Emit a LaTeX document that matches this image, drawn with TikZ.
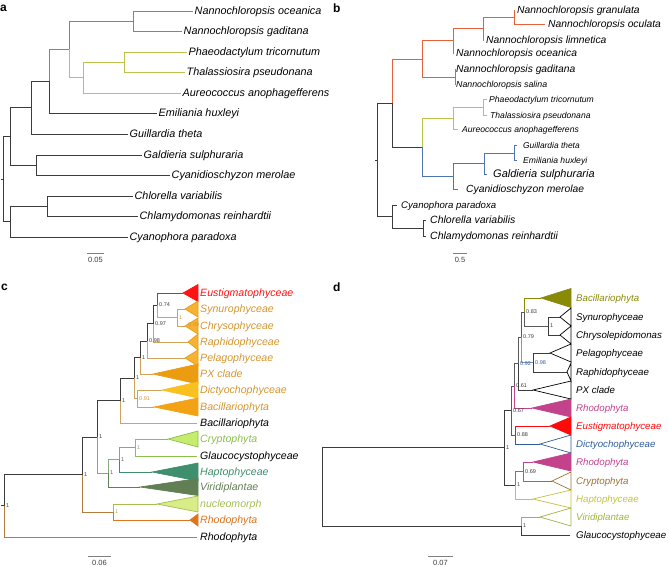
\documentclass[tikz,border=0pt]{standalone}
\usepackage{fontspec}
\setmainfont{Liberation Sans}
\usetikzlibrary{calc}

\definecolor{dkbr}{HTML}{3C3C3C}
\definecolor{dgry}{HTML}{5A5A5A}
\definecolor{aorg}{HTML}{E8603A}
\definecolor{ayel}{HTML}{BCC24C}
\definecolor{bblu}{HTML}{4E74B4}
\definecolor{ceus}{HTML}{FF1414}
\definecolor{corg}{HTML}{F6B233}
\definecolor{cpx}{HTML}{EC9C10}
\definecolor{cdic}{HTML}{FAC020}
\definecolor{cbac}{HTML}{F2A214}
\definecolor{ctan}{HTML}{D0A25C}
\definecolor{ctxt}{HTML}{D4962E}
\definecolor{ccry}{HTML}{C6EC6C}
\definecolor{ccrt}{HTML}{8CBE4E}
\definecolor{chap}{HTML}{3F8E6E}
\definecolor{cvir}{HTML}{617E55}
\definecolor{cnuc}{HTML}{D8EC88}
\definecolor{cnut}{HTML}{A6BE50}
\definecolor{crho}{HTML}{DE741E}
\definecolor{cbrn}{HTML}{B57D3C}
\definecolor{cgrn}{HTML}{88A878}
\definecolor{dolv}{HTML}{898A08}
\definecolor{dpnk}{HTML}{C2438C}
\definecolor{dred}{HTML}{FF0A0A}
\definecolor{dblu}{HTML}{2E5E9C}
\definecolor{dbrn}{HTML}{9C7230}
\definecolor{dyel}{HTML}{C8C23C}
\definecolor{dygr}{HTML}{A2B43E}
\definecolor{dbgr}{HTML}{7A98C0}

\tikzset{
  br/.style     = {line width=0.9pt},
  clade/.style  = {line width=0.7pt, line join=miter},
  taxon/.style  = {anchor=base west, inner sep=0pt, xshift=1.5pt,
                   yshift={-0.36*#1pt}, font=\fontsize{#1}{#1}\selectfont\itshape},
  taxon/.default = 10,
  supp/.style   = {anchor=west, inner sep=0pt, xshift=2pt,
                   font=\fontsize{5.5}{6}\selectfont, text=dkbr},
  plab/.style   = {anchor=west, inner sep=0pt, font=\fontsize{12}{14}\selectfont\bfseries},
  sbar/.style   = {line width=0.8pt, draw=gray},
  stxt/.style   = {inner sep=0pt, font=\fontsize{7.5}{9}\selectfont, text=dkbr}
}

\begin{document}
\begin{tikzpicture}[x=1pt, y=-1pt]
\useasboundingbox (0,0) rectangle (669,567);

% ── b: plastid tree ──────────────────────────────────────────────
\node[plab] (bLab) at (333,8) {b};

\coordinate (bGra) at (515,10);
\coordinate (bOcu) at (545,24);
\coordinate (bLim) at (484,40);
\coordinate (bOce) at (454,53);
\coordinate (bGad) at (456,69);
\coordinate (bSal) at (456,84);
\coordinate (bPha) at (487,99);
\coordinate (bTha) at (487,115);
\coordinate (bAur) at (458,129);
\coordinate (bGui) at (517,145);
\coordinate (bEmi) at (517,160);
\coordinate (bGal) at (487,174);
\coordinate (bCyd) at (458,189);
\coordinate (bCyp) at (397,205);
\coordinate (bChl) at (426,220);
\coordinate (bChm) at (426,236);

\coordinate (bN1) at (514,17);
\coordinate (bN2) at (483,28.5);
\coordinate (bN3) at (453,40.5);
\coordinate (bN4) at (455,77);
\coordinate (bN5) at (422,59);
\coordinate (bN6) at (483,107);
\coordinate (bN7) at (453,118);
\coordinate (bN8) at (514,153);
\coordinate (bN9) at (484,163.5);
\coordinate (bN10) at (453,176);
\coordinate (bN11) at (422,147);
\coordinate (bN12) at (392,103);
\coordinate (bN13) at (423,228);
\coordinate (bN14) at (392,216.5);
\coordinate (bR) at (377,160);
\coordinate (bRs) at (375,160);

\draw[br, aorg] (bN1) |- (bGra);
\draw[br, aorg] (bN1) |- (bOcu);
\draw[br, aorg] (bN2) |- (bN1);
\draw[br, aorg] (bN2) |- (bLim);
\draw[br, aorg] (bN3) |- (bN2);
\draw[br, aorg] (bN3) |- (bOce);
\draw[br, aorg] (bN4) |- (bGad);
\draw[br, aorg] (bN4) |- (bSal);
\draw[br, aorg] (bN5) |- (bN3);
\draw[br, aorg] (bN5) |- (bN4);
\draw[br, ayel] (bN6) |- (bPha);
\draw[br, ayel] (bN6) |- (bTha);
\draw[br, ayel] (bN7) |- (bN6);
\draw[br, ayel] (bN7) |- (bAur);
\draw[br, bblu] (bN8) |- (bGui);
\draw[br, bblu] (bN8) |- (bEmi);
\draw[br, bblu] (bN9) |- (bN8);
\draw[br, bblu] (bN9) |- (bGal);
\draw[br, bblu] (bN10) |- (bN9);
\draw[br, bblu] (bN10) |- (bCyd);
\draw[br, ayel] (bN11) |- (bN7);
\draw[br, bblu] (bN11) |- (bN10);
\draw[br, aorg] (bN12) |- (bN5);
\draw[br, dkbr] (bN12) |- (bN11);
\draw[br, dkbr] (bN13) |- (bChl);
\draw[br, dkbr] (bN13) |- (bChm);
\draw[br, dkbr] (bN14) |- (bCyp);
\draw[br, dkbr] (bN14) |- (bN13);
\draw[br, dkbr] (bR) |- (bN12);
\draw[br, dkbr] (bR) |- (bN14);
\draw[br, dkbr] (bRs) -- (bR);

\node[taxon=10.3] (bGraT) at (515.5,10) {Nannochloropsis granulata};
\node[taxon=10.3] (bOcuT) at (546.5,24) {Nannochloropsis oculata};
\node[taxon=10.3] (bLimT) at (484.5,40) {Nannochloropsis limnetica};
\node[taxon=10.3] (bOceT) at (454.5,53) {Nannochloropsis oceanica};
\node[taxon=10.3] (bGadT) at (454.5,69) {Nannochloropsis gaditana};
\node[taxon=8.8] (bSalT) at (454.5,84) {Nannochloropsis salina};
\node[taxon=8.6] (bPhaT) at (487.5,99) {Phaeodactylum tricornutum};
\node[taxon=8.6] (bThaT) at (488.5,115) {Thalassiosira pseudonana};
\node[taxon=8.6] (bAurT) at (460.5,129) {Aureococcus anophagefferens};
\node[taxon=8.4] (bGuiT) at (521.5,145) {Guillardia theta};
\node[taxon=8.6] (bEmiT) at (521.5,160) {Emiliania huxleyi};
\node[taxon=11] (bGalT) at (491.5,174) {Galdieria sulphuraria};
\node[taxon=10.3] (bCydT) at (464.5,189) {Cyanidioschyzon merolae};
\node[taxon=9.6] (bCypT) at (399.5,205) {Cyanophora paradoxa};
\node[taxon=10.5] (bChlT) at (428.5,220) {Chlorella variabilis};
\node[taxon=10.5] (bChmT) at (428.5,236) {Chlamydomonas reinhardtii};

\coordinate (bS1) at (453,253);
\coordinate (bS2) at (467,253);
\draw[sbar] (bS1) -- (bS2);
\node[stxt] (bScl) at (460,260) {0.5};

% ── a: species tree ──────────────────────────────────────────────
\node[plab] (aLab) at (0,8) {a};

\coordinate (aNoc) at (193,11);
\coordinate (aNga) at (182,31);
\coordinate (aPha) at (187,52);
\coordinate (aTha) at (185,72);
\coordinate (aAur) at (181,93);
\coordinate (aEmi) at (157,113);
\coordinate (aGui) at (128,134);
\coordinate (aGal) at (142,155);
\coordinate (aCyd) at (170,175);
\coordinate (aChl) at (133,196);
\coordinate (aChm) at (138,216);
\coordinate (aCyp) at (128,237);

\coordinate (aN1) at (133,21);
\coordinate (aN2) at (124,62);
\coordinate (aN3) at (83,77.5);
\coordinate (aN4) at (69,49);
\coordinate (aN5) at (49,81);
\coordinate (aN6) at (31,107.5);
\coordinate (aN7) at (36,165);
\coordinate (aN8) at (10,136);
\coordinate (aN9) at (47,206);
\coordinate (aN10) at (10,221.5);
\coordinate (aR) at (3,179);
\coordinate (aRs) at (1,179);

\draw[br, color=aorg] (aN1) |- (aNoc);
\draw[br, color=aorg] (aN1) |- (aNga);
\draw[br, color=ayel] (aN2) |- (aPha);
\draw[br, color=ayel] (aN2) |- (aTha);
\draw[br, color=ayel] (aN3) |- (aN2);
\draw[br, color=ayel] (aN3) |- (aAur);
\draw[br, color=aorg] (aN4) |- (aN1);
\draw[br, color=ayel] (aN4) |- (aN3);
\draw[br, color=aorg] (aN5) |- (aN4);
\draw[br, dkbr] (aN5) |- (aEmi);
\draw[br, dkbr] (aN6) |- (aN5);
\draw[br, dkbr] (aN6) |- (aGui);
\draw[br, dkbr] (aN7) |- (aGal);
\draw[br, dkbr] (aN7) |- (aCyd);
\draw[br, dkbr] (aN8) |- (aN6);
\draw[br, dkbr] (aN8) |- (aN7);
\draw[br, dkbr] (aN9) |- (aChl);
\draw[br, dkbr] (aN9) |- (aChm);
\draw[br, dkbr] (aN10) |- (aN9);
\draw[br, dkbr] (aN10) |- (aCyp);
\draw[br, dkbr] (aR) |- (aN8);
\draw[br, dkbr] (aR) |- (aN10);
\draw[br, dkbr] (aRs) -- (aR);

\node[taxon=10.8] (aNocT) at (aNoc) {Nannochloropsis oceanica};
\node[taxon=10.8] (aNgaT) at (aNga) {Nannochloropsis gaditana};
\node[taxon=10.8] (aPhaT) at (aPha) {Phaeodactylum tricornutum};
\node[taxon=10.8] (aThaT) at (aTha) {Thalassiosira pseudonana};
\node[taxon=10.8] (aAurT) at (aAur) {Aureococcus anophagefferens};
\node[taxon=10.8] (aEmiT) at (aEmi) {Emiliania huxleyi};
\node[taxon=10.8] (aGuiT) at (aGui) {Guillardia theta};
\node[taxon=10.8] (aGalT) at (aGal) {Galdieria sulphuraria};
\node[taxon=10.8] (aCydT) at (aCyd) {Cyanidioschyzon merolae};
\node[taxon=10.8] (aChlT) at (aChl) {Chlorella variabilis};
\node[taxon=10.8] (aChmT) at (aChm) {Chlamydomonas reinhardtii};
\node[taxon=10.8] (aCypT) at (aCyp) {Cyanophora paradoxa};

\coordinate (aS1) at (87,253);
\coordinate (aS2) at (104,253);
\draw[sbar] (aS1) -- (aS2);
\node[stxt] (aScl) at (95.5,260) {0.05};

% ── c: collapsed clades ──────────────────────────────────────────
\node[plab] (cLab) at (1,287) {c};

\coordinate (cEus) at (183,293);
\coordinate (cSyn) at (185,309);
\coordinate (cChr) at (185,326);
\coordinate (cRap) at (188,342);
\coordinate (cPel) at (185,358);
\coordinate (cPX)  at (153,374);
\coordinate (cDic) at (162,390);
\coordinate (cBac) at (154,407);
\coordinate (cBal) at (197,423);
\coordinate (cCry) at (168,439);
\coordinate (cGla) at (197,456);
\coordinate (cHap) at (152,472);
\coordinate (cVir) at (140,487);
\coordinate (cNuc) at (157,504);
\coordinate (cRho) at (190,520);
\coordinate (cRhl) at (197,537);

\coordinate (cN1) at (177,317.5);
\coordinate (cN2) at (157,305);
\coordinate (cN3) at (153,323.5);
\coordinate (cN4) at (147,341);
\coordinate (cN5) at (140,357.5);
\coordinate (cN6) at (137,398.5);
\coordinate (cN7) at (134,378);
\coordinate (cN8) at (120,400.5);
\coordinate (cN9) at (135,447.5);
\coordinate (cN10) at (119,459.5);
\coordinate (cN11) at (108,473);
\coordinate (cN12) at (97,437);
\coordinate (cN13) at (113,512);
\coordinate (cN14) at (82,474.5);
\coordinate (cR) at (4,505.5);
\coordinate (cRs) at (1,505.5);

\draw[br, ctan] (cN1) |- (cSyn);
\draw[br, ctan] (cN1) |- (cChr);
\draw[br, ceus] (cN2) |- (cEus);
\draw[br, ctan] (cN2) |- (cN1);
\draw[br, dkbr] (cN3) |- (cN2);
\draw[br, ctan] (cN3) |- (cRap);
\draw[br, dkbr] (cN4) |- (cN3);
\draw[br, ctan] (cN4) |- (cPel);
\draw[br, dkbr] (cN5) |- (cN4);
\draw[br, ctan] (cN5) |- (cPX);
\draw[br, ctan] (cN6) |- (cDic);
\draw[br, ctan] (cN6) |- (cBac);
\draw[br, dkbr] (cN7) |- (cN5);
\draw[br, ctan] (cN7) |- (cN6);
\draw[br, dkbr] (cN8) |- (cN7);
\draw[br, ctan] (cN8) |- (cBal);
\draw[br, ccrt] (cN9) |- (cCry);
\draw[br, ccrt] (cN9) |- (cGla);
\draw[br, cgrn] (cN10) |- (cN9);
\draw[br, chap] (cN10) |- (cHap);
\draw[br, cgrn] (cN11) |- (cN10);
\draw[br, cvir] (cN11) |- (cVir);
\draw[br, dkbr] (cN12) |- (cN8);
\draw[br, cgrn] (cN12) |- (cN11);
\draw[br, cnut] (cN13) |- (cNuc);
\draw[br, crho] (cN13) |- (cRho);
\draw[br, dkbr] (cN14) |- (cN12);
\draw[br, cbrn] (cN14) |- (cN13);
\draw[br, dkbr] (cR) |- (cN14);
\draw[br, cbrn] (cR) |- (cRhl);
\draw[br, dkbr] (cRs) -- (cR);

% collapsed clades
\draw[clade, draw=ceus, fill=ceus] (cEus) -- ++(15,-8.5) -- ++(0,17) -- cycle;
\draw[clade, draw=cpx, fill=corg] (cSyn) -- ++(13,-8) -- ++(0,16) -- cycle;
\draw[clade, draw=cpx, fill=corg] (cChr) -- ++(13,-8) -- ++(0,16) -- cycle;
\draw[clade, draw=cpx, fill=corg] (cRap) -- ++(10,-8) -- ++(0,16) -- cycle;
\draw[clade, draw=cpx, fill=corg] (cPel) -- ++(13,-8) -- ++(0,16) -- cycle;
\draw[clade, draw=cpx, fill=cpx] (cPX) -- ++(45,-10) -- ++(0,20) -- cycle;
\draw[clade, draw=cdic, fill=cdic] (cDic) -- ++(36,-8) -- ++(0,16) -- cycle;
\draw[clade, draw=cbac, fill=cbac] (cBac) -- ++(44,-9) -- ++(0,18) -- cycle;
\draw[clade, draw=ccrt, fill=ccry] (cCry) -- ++(30,-8) -- ++(0,16) -- cycle;
\draw[clade, draw=chap, fill=chap] (cHap) -- ++(46,-9) -- ++(0,18) -- cycle;
\draw[clade, draw=cvir, fill=cvir] (cVir) -- ++(58,-8.5) -- ++(0,17) -- cycle;
\draw[clade, draw=cnut, fill=cnuc] (cNuc) -- ++(41,-8) -- ++(0,16) -- cycle;
\draw[clade, draw=crho, fill=crho] (cRho) -- ++(8,-6) -- ++(0,12) -- cycle;

\node[supp, text=ctxt] (cN1s) at (cN1) {1};
\node[supp, text=ctxt] (cChrs) at (186,325) {0.99};
\node[supp] (cN2s) at (cN2) {0.74};
\node[supp] (cN3s) at (cN3) {0.97};
\node[supp] (cN4s) at (cN4) {0.98};
\node[supp] (cN5s) at (cN5) {1};
\node[supp, text=ctxt] (cN6s) at (cN6) {0.91};
\node[supp] (cN7s) at (cN7) {1};
\node[supp] (cN8s) at (cN8) {1};
\node[supp, text=cgrn] (cN9s) at (cN9) {1};
\node[supp, text=dgry] (cN10s) at (cN10) {1};
\node[supp, text=dgry] (cN11s) at (cN11) {1};
\node[supp] (cN12s) at (cN12) {1};
\node[supp, text=cnut] (cN13s) at (cN13) {1};
\node[supp] (cN14s) at (cN14) {1};
\node[supp] (cRsl) at (cR) {1};

\node[taxon=10.6, text=ceus] (cEusT) at (198.5,293) {Eustigmatophyceae};
\node[taxon=10.6, text=ctxt] (cSynT) at (198.5,309) {Synurophyceae};
\node[taxon=10.6, text=ctxt] (cChrT) at (198.5,326) {Chrysophyceae};
\node[taxon=10.6, text=ctxt] (cRapT) at (198.5,342) {Raphidophyceae};
\node[taxon=10.6, text=ctxt] (cPelT) at (198.5,358) {Pelagophyceae};
\node[taxon=10.6, text=ctxt] (cPXT)  at (198.5,374) {PX clade};
\node[taxon=10.6, text=ctxt] (cDicT) at (198.5,390) {Dictyochophyceae};
\node[taxon=10.6, text=ctxt] (cBacT) at (198.5,407) {Bacillariophyta};
\node[taxon=10.6] (cBalT) at (198.5,423) {Bacillariophyta};
\node[taxon=10.6, text=ccrt] (cCryT) at (198.5,439) {Cryptophyta};
\node[taxon=10.6] (cGlaT) at (198.5,456) {Glaucocystophyceae};
\node[taxon=10.6, text=chap] (cHapT) at (198.5,472) {Haptophyceae};
\node[taxon=10.6, text=cvir] (cVirT) at (198.5,487) {Viridiplantae};
\node[taxon=10.6, text=cnut] (cNucT) at (198.5,504) {nucleomorph};
\node[taxon=10.6, text=crho] (cRhoT) at (198.5,520) {Rhodophyta};
\node[taxon=10.6] (cRhlT) at (198.5,537) {Rhodophyta};

\coordinate (cS1) at (88,556);
\coordinate (cS2) at (111,556);
\draw[sbar] (cS1) -- (cS2);
\node[stxt] (cScl) at (99.5,563) {0.06};

% ── d: collapsed clades, second tree ─────────────────────────────
\node[plab] (dLab) at (333,287) {d};

\coordinate (dBac) at (541,298);
\coordinate (dSyn) at (560,317);
\coordinate (dChr) at (560,335);
\coordinate (dPel) at (550,353);
\coordinate (dRap) at (567,372);
\coordinate (dPX)  at (533,390);
\coordinate (dRh1) at (532,408);
\coordinate (dEus) at (550,426);
\coordinate (dDic) at (540,444);
\coordinate (dRh2) at (533,462);
\coordinate (dCry) at (552,481);
\coordinate (dHap) at (533,499);
\coordinate (dVir) at (540,517);
\coordinate (dGla) at (570,535);

\coordinate (dN1) at (548,326);
\coordinate (dN2) at (524,312);
\coordinate (dN3) at (533,362.5);
\coordinate (dN4) at (521,337);
\coordinate (dN5) at (518,363.5);
\coordinate (dN6) at (514,386);
\coordinate (dN7) at (515,435);
\coordinate (dN8) at (511,410.5);
\coordinate (dN9) at (523,471.5);
\coordinate (dN10) at (515,485);
\coordinate (dN11) at (504,447.5);
\coordinate (dN12) at (521,526);
\coordinate (dR) at (322,486.5);

\draw[br, dolv] (dN2) |- (dBac);
\draw[br, dgry] (dN2) |- (dN1);
\draw[br, dkbr] (dN1) |- (dSyn);
\draw[br, dkbr] (dN1) |- (dChr);
\draw[br, dgry] (dN4) |- (dN2);
\draw[br, dbgr] (dN4) |- (dN3);
\draw[br, dkbr] (dN3) |- (dPel);
\draw[br, dkbr] (dN3) |- (dRap);
\draw[br, dgry] (dN5) |- (dN4);
\draw[br, dkbr] (dN5) |- (dPX);
\draw[br, dgry] (dN6) |- (dN5);
\draw[br, dpnk] (dN6) |- (dRh1);
\draw[br, dgry] (dN8) |- (dN6);
\draw[br, dgry] (dN8) |- (dN7);
\draw[br, dred] (dN7) |- (dEus);
\draw[br, dblu] (dN7) |- (dDic);
\draw[br, dkbr] (dN11) |- (dN8);
\draw[br, dkbr] (dN11) |- (dN10);
\draw[br, dbrn] (dN10) |- (dN9);
\draw[br, dyel] (dN10) |- (dHap);
\draw[br, dpnk] (dN9) |- (dRh2);
\draw[br, dbrn] (dN9) |- (dCry);
\draw[br, dkbr] (dR) |- (dN11);
\draw[br, dkbr] (dR) |- (dN12);
\draw[br, dygr] (dN12) |- (dVir);
\draw[br, dkbr] (dN12) |- (dGla);

% collapsed clades
\draw[clade, draw=dolv, fill=dolv] (dBac) -- ++(30,-9.5) -- ++(0,19) -- cycle;
\draw[clade, draw=black, fill=white] (dSyn) -- ++(11,-9) -- ++(0,18) -- cycle;
\draw[clade, draw=black, fill=white] (dChr) -- ++(11,-9) -- ++(0,18) -- cycle;
\draw[clade, draw=black, fill=white] (dPel) -- ++(21,-9) -- ++(0,18) -- cycle;
\draw[clade, draw=black, fill=white] (dRap) -- ++(4,-9) -- ++(0,18) -- cycle;
\draw[clade, draw=black, fill=white] (dPX)  -- ++(38,-9) -- ++(0,18) -- cycle;
\draw[clade, draw=dpnk, fill=dpnk] (dRh1) -- ++(39,-9) -- ++(0,18) -- cycle;
\draw[clade, draw=dred, fill=dred] (dEus) -- ++(21,-9) -- ++(0,18) -- cycle;
\draw[clade, draw=dblu, fill=white] (dDic) -- ++(31,-9) -- ++(0,18) -- cycle;
\draw[clade, draw=dpnk, fill=dpnk] (dRh2) -- ++(38,-9) -- ++(0,18) -- cycle;
\draw[clade, draw=dbrn, fill=white] (dCry) -- ++(19,-9) -- ++(0,18) -- cycle;
\draw[clade, draw=dyel, fill=white] (dHap) -- ++(38,-9) -- ++(0,18) -- cycle;
\draw[clade, draw=dygr, fill=white] (dVir) -- ++(31,-9) -- ++(0,18) -- cycle;

\node[supp] (dN1s) at (dN1) {1};
\node[supp] (dN2s) at (dN2) {0.83};
\node[supp, text=dblu] (dN3s) at (dN3) {0.98};
\node[supp] (dN4s) at (dN4) {0.79};
\node[supp, text=dblu] (dN5s) at (dN5) {0.92};
\node[supp] (dN6s) at (dN6) {0.61};
\node[supp] (dN8s) at (dN8) {0.67};
\node[supp] (dN7s) at (dN7) {0.88};
\node[supp] (dN9s) at (dN9) {0.69};
\node[supp] (dN10s) at (dN10) {1};
\node[supp] (dN11s) at (dN11) {1};
\node[supp] (dN12s) at (dN12) {1};

\node[taxon=9.7, text=dolv] (dBacT) at (574.5,298) {Bacillariophyta};
\node[taxon=9.7] (dSynT) at (574.5,317) {Synurophyceae};
\node[taxon=9.7] (dChrT) at (574.5,335) {Chrysolepidomonas};
\node[taxon=9.7] (dPelT) at (574.5,353) {Pelagophyceae};
\node[taxon=9.7] (dRapT) at (574.5,372) {Raphidophyceae};
\node[taxon=9.7] (dPXT)  at (574.5,390) {PX clade};
\node[taxon=9.7, text=dpnk] (dRh1T) at (574.5,408) {Rhodophyta};
\node[taxon=9.7, text=dred] (dEusT) at (574.5,426) {Eustigmatophyceae};
\node[taxon=9.7, text=dblu] (dDicT) at (574.5,444) {Dictyochophyceae};
\node[taxon=9.7, text=dpnk] (dRh2T) at (574.5,462) {Rhodophyta};
\node[taxon=9.7, text=dbrn] (dCryT) at (574.5,481) {Cryptophyta};
\node[taxon=9.7, text=dyel] (dHapT) at (574.5,499) {Haptophyceae};
\node[taxon=9.7, text=dygr] (dVirT) at (574.5,517) {Viridiplantae};
\node[taxon=9.7] (dGlaT) at (574.5,535) {Glaucocystophyceae};

\coordinate (dS1) at (428,556);
\coordinate (dS2) at (453,556);
\draw[sbar] (dS1) -- (dS2);
\node[stxt] (dScl) at (440.5,563) {0.07};

\end{tikzpicture}
\end{document}
